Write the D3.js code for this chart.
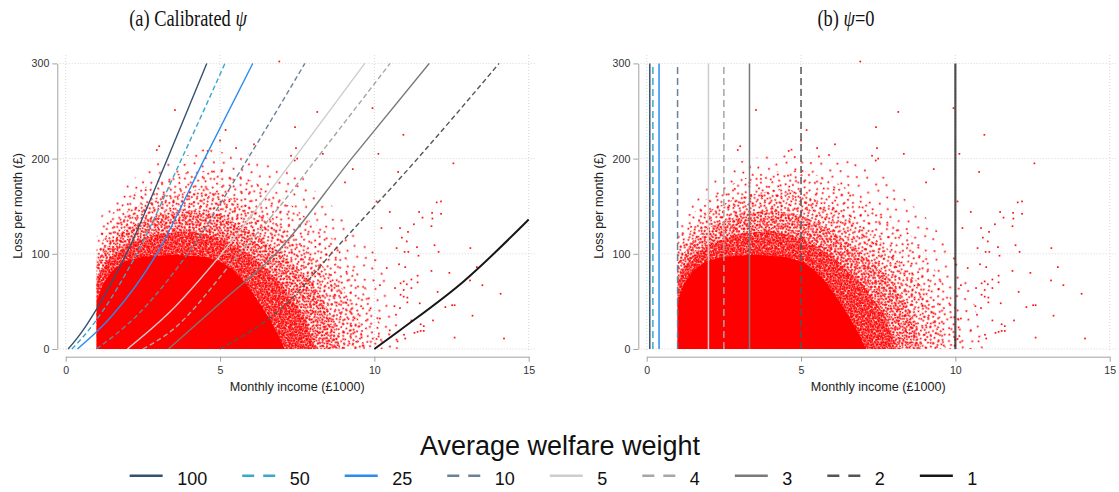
<!DOCTYPE html>
<html>
<head>
<meta charset="utf-8">
<script src="https://cdn.jsdelivr.net/npm/d3@7"></script>
<style>
  body { margin: 0; background: #fff; }
  svg { display: block; font-family: "Liberation Sans", Arial, sans-serif; }
</style>
</head>
<body>
<svg id="chart" width="1119" height="492"></svg>
<script>
// welfare weight levels (legend order)
var weights = ["100", "50", "25", "10", "5", "4", "3", "2", "1"];
var colors = ["#34526f", "#3aa7cc", "#2a8cf2", "#6a8197", "#cdcdcd", "#a6a6a6", "#7a7a7a", "#555555", "#161616"];
var dashed = [false, true, false, true, false, true, false, true, false];

// psi = 0: income (£1000) at which each weight is reached
var thresholds = [0.1, 0.2, 0.4, 1, 2, 2.5, 3.33, 5, 10];

// calibrated psi: [income, loss]
var curve100 = [[0.08, 0], [0.5, 17], [1.0, 42], [1.98, 101], [3.3, 200], [4.57, 300]];
var curve50  = [[0.2, 0], [0.7, 18], [1.2, 40], [2.3, 100], [3.76, 200], [5.16, 300]];
var curve25  = [[0.38, 0], [1.0, 18], [1.5, 35], [2.95, 100], [4.5, 200], [6.06, 300]];
var curve10  = [[1.0, 0], [2.3, 35], [3.95, 100], [5.9, 200], [7.75, 300]];
var curve5   = [[2.0, 0], [3.38, 39], [5.05, 100], [7.4, 200], [9.69, 300]];
var curve4   = [[2.5, 0], [3.38, 18], [5.62, 100], [6.94, 150], [8.13, 200], [10.51, 300]];
var curve3   = [[3.33, 0], [5.1, 51], [6.8, 100], [9.26, 200], [11.78, 300]];
var curve2   = [[5.0, 0], [7.2, 49], [8.6, 100], [11.4, 200], [14.04, 300]];
var curve1   = [[10.0, 0], [10.84, 20], [12.88, 70.7], [15.0, 136]];
var curves = [curve100, curve50, curve25, curve10, curve5, curve4, curve3, curve2, curve1];

// household scatter, outlined as nested density bands [income, loss], sparse to solid
var band3  = [[1.0, 0], [1.0, 130], [1.3, 150], [2.0, 176], [2.6, 186], [3.0, 197], [4.0, 204], [4.6, 212], [5.0, 207], [6.0, 205], [7.0, 192], [7.6, 185], [8.0, 168], [9.0, 140], [10.0, 102], [10.5, 62], [10.8, 22], [10.9, 0]];
var band7  = [[1.0, 0], [1.0, 118], [1.5, 142], [2.0, 160], [3.0, 177], [3.5, 183], [4.0, 186], [5.0, 188], [6.0, 177], [7.0, 160], [8.0, 132], [8.5, 122], [9.0, 100], [9.8, 60], [10.2, 25], [10.3, 0]];
var band15 = [[1.0, 0], [1.0, 105], [1.5, 128], [2.0, 145], [3.0, 160], [4.0, 166], [4.5, 169], [5.0, 163], [6.0, 150], [7.0, 128], [8.0, 100], [9.0, 62], [9.5, 30], [9.7, 0]];
var band30 = [[1.0, 0], [1.0, 92], [1.5, 114], [2.0, 128], [3.0, 141], [4.0, 146], [5.0, 141], [6.0, 124], [7.0, 100], [8.0, 70], [8.6, 36], [8.9, 0]];
var band55 = [[1.0, 0], [1.0, 74], [1.4, 95], [2.0, 110], [3.0, 121], [4.0, 124], [5.0, 117], [6.0, 98], [7.0, 68], [7.7, 36], [8.1, 0]];
var bandSolid = [[1.0, 0], [1.0, 50], [1.2, 68], [1.5, 82], [1.9, 92], [2.5, 97], [3.5, 99], [4.5, 97], [5.0, 92], [5.4, 84], [5.8, 70], [6.2, 52], [6.6, 32], [6.9, 14], [7.1, 0]];

// single households outside the bands
var outliers = [
  [3.54, 251], [3.03, 213], [2.95, 209], [6.92, 302], [5.18, 230], [5.0, 219], [7.43, 233], [5.52, 211],
  [7.46, 211], [8.15, 249], [9.94, 253], [10.94, 225], [10.13, 205], [8.33, 205], [7.3, 203], [7.42, 198],
  [7.5, 200], [6.1, 215], [4.6, 208], [9.3, 189], [9.05, 175],
  [12.56, 195], [12.02, 154], [12.16, 155], [11.45, 144], [11.87, 143], [12.16, 142], [11.56, 138], [11.88, 137],
  [11.28, 131], [11.09, 123], [11.85, 129], [10.89, 117], [13.11, 106], [11.38, 107], [11.95, 109], [12.08, 102],
  [11.1, 102], [10.98, 102], [11.43, 98], [10.8, 89], [11.0, 86], [11.85, 82], [12.43, 80], [11.4, 77], [11.2, 73],
  [11.4, 70], [10.95, 71], [10.85, 69], [11.05, 68], [13.1, 72], [13.5, 67], [14.09, 58], [11.2, 64], [10.95, 62],
  [10.85, 57], [10.95, 55], [11.07, 54], [11.07, 49], [11.47, 48], [12.05, 60], [12.3, 44], [12.52, 46], [12.6, 46],
  [13.18, 35], [11.9, 30], [11.2, 30], [11.5, 26], [11.6, 24], [11.5, 19], [11.6, 19], [11.4, 18], [11.3, 17],
  [10.96, 15], [11.0, 11], [12.6, 12], [14.2, 11], [13.32, 86], [10.7, 36], [10.75, 8], [10.65, 45],
  [10.18, 67], [10.4, 85], [10.67, 64], [10.83, 43], [10.18, 32], [10.5, 19.6], [10.07, 10.5], [10.72, 106],
  [11.05, 113], [10.23, 127], [10.83, 127], [10.5, 144], [10.07, 155], [10.77, 186]
];

var yTicks = [0, 100, 200, 300];
var xTicks = [0, 5, 10, 15];

var svg = d3.select("#chart");
var defs = svg.append("defs");

// speckle texture used to shade the bands (one tile of jittered dots)
var speck = [
  [0.05, 0.08], [0.27, 0.13], [0.46, 0.04], [0.68, 0.16], [0.87, 0.07],
  [0.15, 0.31], [0.36, 0.26], [0.58, 0.34], [0.79, 0.29], [0.97, 0.35],
  [0.03, 0.52], [0.24, 0.47], [0.47, 0.55], [0.66, 0.45], [0.88, 0.53],
  [0.13, 0.72], [0.35, 0.68], [0.56, 0.74], [0.77, 0.70], [0.96, 0.76],
  [0.06, 0.90], [0.25, 0.93], [0.45, 0.88], [0.68, 0.94], [0.86, 0.91]
];
var textures = [
  { band: band3,  id: "d3",  size: 48,   angle: 17 },
  { band: band7,  id: "d7",  size: 32,   angle: -29 },
  { band: band15, id: "d15", size: 22,   angle: 41 },
  { band: band30, id: "d30", size: 15.5, angle: -63 },
  { band: band55, id: "d55", size: 11.2, angle: 8 }
];
textures.forEach(function(t) {
  var pat = defs.append("pattern")
    .attr("id", "dots-" + t.id)
    .attr("patternUnits", "userSpaceOnUse")
    .attr("width", t.size).attr("height", t.size)
    .attr("patternTransform", "rotate(" + t.angle + ")");
  pat.selectAll("rect").data(speck).enter().append("rect")
    .attr("x", d => d[0] * t.size - 0.85)
    .attr("y", d => d[1] * t.size - 0.85)
    .attr("width", 1.7).attr("height", 1.7)
    .attr("fill", "#ff0000");
});

var yScale = d3.scaleLinear().domain([0, 300]).range([349, 63.4]);
var plotWidth = 463;
var axisColor = "#a3a3a3";

function drawPanel(left, calibrated) {
  var xScale = d3.scaleLinear().domain([0, 15]).range([left, left + plotWidth]);
  var g = svg.append("g");

  // dotted grid
  g.selectAll(".hgrid").data(yTicks).enter().append("line")
    .attr("x1", left - 6).attr("x2", left + plotWidth + 8)
    .attr("y1", d => yScale(d)).attr("y2", d => yScale(d))
    .attr("stroke", "#d6d6d6").attr("stroke-dasharray", "1,2");
  g.selectAll(".vgrid").data(xTicks).enter().append("line")
    .attr("x1", d => xScale(d)).attr("x2", d => xScale(d))
    .attr("y1", 55).attr("y2", 352)
    .attr("stroke", "#d6d6d6").attr("stroke-dasharray", "1,2");

  // scatter
  var area = d3.line().x(d => xScale(d[0])).y(d => yScale(d[1])).curve(d3.curveLinearClosed);
  textures.forEach(function(t) {
    g.append("path").attr("d", area(t.band)).attr("fill", "url(#dots-" + t.id + ")");
  });
  g.append("path").attr("d", area(bandSolid)).attr("fill", "#ff0000");
  g.selectAll(".pt").data(outliers).enter().append("rect")
    .attr("x", d => xScale(d[0]) - 0.85).attr("y", d => yScale(d[1]) - 0.85)
    .attr("width", 1.7).attr("height", 1.7).attr("fill", "#ff1010");

  // welfare weight lines
  if (calibrated) {
    var line = d3.line().x(d => xScale(d[0])).y(d => yScale(d[1])).curve(d3.curveMonotoneX);
    curves.forEach(function(c, i) {
      g.append("path").attr("d", line(c))
        .attr("fill", "none").attr("stroke", colors[i])
        .attr("stroke-width", i === 8 ? 2 : 1.4)
        .attr("stroke-dasharray", dashed[i] ? "5,3" : null);
    });
  } else {
    g.selectAll(".vline").data(thresholds).enter().append("line")
      .attr("x1", d => xScale(d)).attr("x2", d => xScale(d))
      .attr("y1", yScale(0)).attr("y2", yScale(300))
      .attr("stroke", (d, i) => colors[i])
      .attr("stroke-opacity", (d, i) => i === 8 ? 0.75 : 1)
      .attr("stroke-width", (d, i) => i === 8 ? 2.2 : 1.5)
      .attr("stroke-dasharray", (d, i) => dashed[i] ? "7,4" : null);
  }

  // axes
  var yAxis = g.append("g")
    .attr("transform", "translate(" + (left - 8.4) + ",0)")
    .call(d3.axisLeft(yScale).tickValues(yTicks).tickSize(5).tickSizeOuter(0).tickPadding(3));
  var xAxis = g.append("g")
    .attr("transform", "translate(0,356.7)")
    .call(d3.axisBottom(xScale).tickValues(xTicks).tickSize(5).tickSizeOuter(0).tickPadding(5));
  [yAxis, xAxis].forEach(function(a) {
    a.select(".domain").attr("stroke", axisColor);
    a.selectAll(".tick line").attr("stroke", axisColor);
    a.selectAll(".tick text").attr("fill", "#333").style("font-size", "10.6px")
      .style("font-family", "'Liberation Sans', Arial, sans-serif");
  });

  g.append("text")
    .attr("transform", "translate(" + (left - 44.2) + ",206) rotate(-90)")
    .attr("text-anchor", "middle")
    .attr("fill", "#222").style("font-size", "12.6px")
    .text("Loss per month (£)");
  g.append("text")
    .attr("x", left + plotWidth / 2).attr("y", 391)
    .attr("text-anchor", "middle")
    .attr("fill", "#222").style("font-size", "12.6px")
    .text("Monthly income (£1000)");
}

drawPanel(65.7, true);
drawPanel(646.7, false);

// panel titles
function title(cx, lead, tail) {
  var t = svg.append("text")
    .attr("transform", "translate(" + cx + ",26) scale(0.8,1)")
    .attr("text-anchor", "middle")
    .style("font-family", "'Liberation Serif', 'DejaVu Serif', serif")
    .style("font-size", "23px").attr("fill", "#111");
  t.append("tspan").text(lead);
  t.append("tspan").style("font-style", "italic").text("\u03c8");
  if (tail) t.append("tspan").text(tail);
}
title(188, "(a) Calibrated ", null);
title(846, "(b) ", "=0");

// legend
svg.append("text")
  .attr("x", 560).attr("y", 455)
  .attr("text-anchor", "middle")
  .attr("fill", "#111").style("font-size", "27px")
  .text("Average welfare weight");

var legend = svg.append("g");
var lx = 0;
weights.forEach(function(w, i) {
  var item = legend.append("g").attr("transform", "translate(" + lx + ",0)");
  item.append("line")
    .attr("x1", 0).attr("x2", 33).attr("y1", 475.7).attr("y2", 475.7)
    .attr("stroke", colors[i]).attr("stroke-width", 2.4)
    .attr("stroke-dasharray", dashed[i] ? "12,9" : null);
  var label = item.append("text")
    .attr("x", 47.5).attr("y", 485)
    .attr("fill", "#111").style("font-size", "18px")
    .text(w);
  lx += 47.5 + label.node().getComputedTextLength() + 35;
});
var legendWidth = lx - 35;
legend.attr("transform", "translate(" + (553.5 - legendWidth / 2) + ",0)");
</script>
</body>
</html>
